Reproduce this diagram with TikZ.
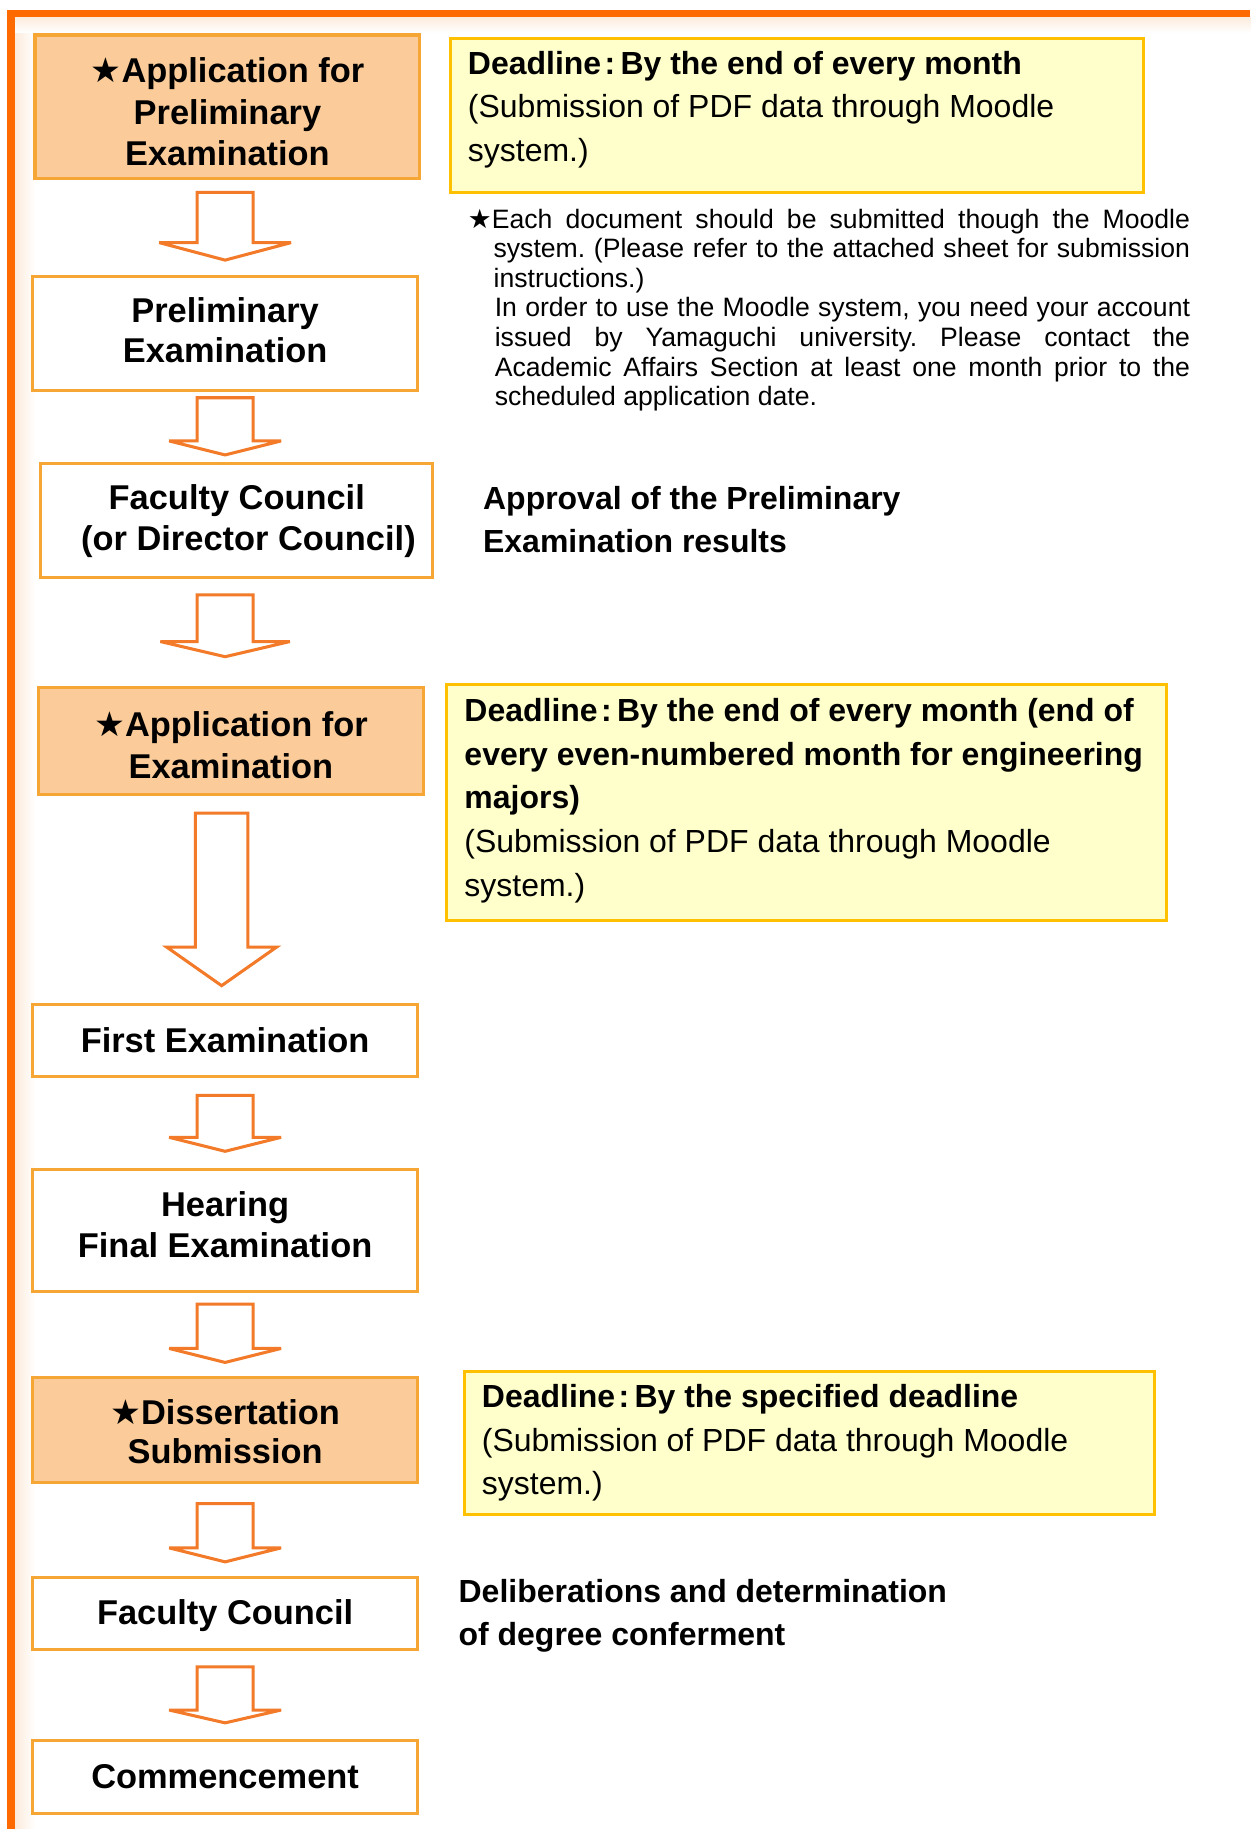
\documentclass[tikz,border=0pt]{standalone}
\usepackage{fontspec}
\setmainfont{Liberation Sans}
\newfontfamily\dvs{DejaVu Sans}
\usetikzlibrary{calc}
\definecolor{frameor}{RGB}{255,106,0}
\definecolor{boxline}{RGB}{246,166,52}
\definecolor{peach}{RGB}{251,204,153}
\definecolor{arrowor}{RGB}{242,122,40}
\definecolor{noteyel}{RGB}{255,255,204}
\definecolor{notegold}{RGB}{255,192,0}
\definecolor{tint}{RGB}{252,234,218}
\newcommand\ctr[1]{\hbox to 0pt{\hss#1\hss}}
\newcommand\stk[2]{\vtop{\baselineskip=#1\lineskiplimit=-1000pt #2}}
\newcommand\bstar{{\dvs ★}}
% from, to, column, top gap, wing dist, tip dist, shaft half width, wing half width
\newcommand\flowarrow[8]{%
  \draw[blockarrow]
    ($(#3 |- #1.south)+(-#7,#4)$) -- ($(#3 |- #1.south)+(#7,#4)$)
    -- ($(#3 |- #2.north)+(#7,-#5)$) -- ($(#3 |- #2.north)+(#8,-#5)$)
    -- ($(#3 |- #2.north)+(0,-#6)$)
    -- ($(#3 |- #2.north)+(-#8,-#5)$) -- ($(#3 |- #2.north)+(-#7,-#5)$) -- cycle;}
\begin{document}
\begin{tikzpicture}[x=1pt,y=-1pt,
  flowbox/.style={draw=boxline,line width=2.6pt,fill=white,inner sep=0pt,outer sep=0pt},
  keybox/.style={flowbox,fill=peach},
  notebox/.style={draw=notegold,line width=2.6pt,fill=noteyel,inner sep=0pt,outer sep=0pt},
  btxt/.style={font=\fontsize{29.5}{35}\selectfont\bfseries,inner sep=0pt,anchor=base},
  rtxt/.style={font=\fontsize{27.4}{37.5}\selectfont,inner sep=0pt,anchor=base west},
  blockarrow/.style={draw=arrowor,line width=2.6pt,fill=white,line join=miter,miter limit=4}]
\useasboundingbox (0,0) rectangle (1072,1568);
\fill[white] (0,0) rectangle (1072,1568);
\shade[left color=tint,right color=white] (12,14) rectangle (30,1568);
\shade[top color=tint,bottom color=white] (12,14) rectangle (1072,28);
\draw[frameor,line width=6.5pt,line join=miter] (9.5,1568) -- (9.5,11.5) -- (1072,11.5);

\coordinate (c1) at (193,0);
\coordinate (c4) at (190,0);

% flow boxes
\node[keybox, minimum width=330pt, minimum height=123pt] (b1) at (195,91.5) {};
\node[flowbox, minimum width=330pt, minimum height=98pt] (b2) at (193,286) {};
\node[flowbox, minimum width=336pt, minimum height=98pt] (b3) at (203,446) {};
\node[keybox, minimum width=330pt, minimum height=92pt] (b4) at (198,635) {};
\node[flowbox, minimum width=330pt, minimum height=62pt] (b5) at (193,892) {};
\node[flowbox, minimum width=330pt, minimum height=104pt] (b6) at (193,1055) {};
\node[keybox, minimum width=330pt, minimum height=90pt] (b7) at (193,1226) {};
\node[flowbox, minimum width=330pt, minimum height=62pt] (b8) at (193,1383) {};
\node[flowbox, minimum width=330pt, minimum height=63pt] (b9) at (193,1523.5) {};

% box texts
\node[btxt] (t1) at (195,71) {\stk{35.5pt}{\ctr{\bstar Application for}\ctr{Preliminary}\ctr{Examination}}};
\node[btxt] (t2) at (193,276.5) {\stk{34pt}{\ctr{Preliminary}\ctr{Examination}}};
\node[btxt] (t3) at (203,437) {\stk{35pt}{\ctr{Faculty Council}\ctr{\kern20pt(or Director Council)}}};
\node[btxt] (t4) at (198,631) {\stk{36pt}{\ctr{\bstar Application for}\ctr{Examination}}};
\node[btxt] (t5) at (193,902) {First Examination};
\node[btxt] (t6) at (193,1043) {\stk{35pt}{\ctr{Hearing}\ctr{Final Examination}}};
\node[btxt] (t7) at (193,1221) {\stk{34pt}{\ctr{\bstar Dissertation}\ctr{Submission}}};
\node[btxt] (t8) at (193,1393) {Faculty Council};
\node[btxt] (t9) at (193,1533) {Commencement};

% arrows
\flowarrow{b1}{b2}{c1}{12}{29}{14}{24}{56.5}
\flowarrow{b2}{b3}{c1}{6}{19}{7}{24}{48}
\flowarrow{b3}{b4}{c1}{15}{39}{26}{24}{55.5}
\flowarrow{b4}{b5}{c4}{16}{49}{16}{22.5}{47}
\flowarrow{b5}{b6}{c1}{16}{28}{16}{24}{48}
\flowarrow{b6}{b7}{c1}{11}{25}{13}{24}{48}
\flowarrow{b7}{b8}{c1}{18}{25}{13}{24}{48}
\flowarrow{b8}{b9}{c1}{15}{26}{15}{24}{48}

% deadline boxes
\node[notebox, minimum width=594pt, minimum height=132pt] (y1) at (683,99) {};
\node[notebox, minimum width=617pt, minimum height=202pt] (y2) at (691.5,688) {};
\node[notebox, minimum width=592pt, minimum height=122pt] (y3) at (694,1237) {};

\node[rtxt] (d1) at (401,63.5) {\stk{37.5pt}{\hbox{\bfseries Deadline\kern3pt:\kern4.5pt By the end of every month}\hbox{(Submission of PDF data through Moodle}\hbox{system.)}}};
\node[rtxt] (d2) at (398,618.5) {\stk{37.5pt}{\hbox{\bfseries Deadline\kern3pt:\kern4.5pt By the end of every month (end of}\hbox{\bfseries every even-numbered month for engineering}\hbox{\bfseries majors)}\hbox{(Submission of PDF data through Moodle}\hbox{system.)}}};
\node[rtxt] (d3) at (413,1206.5) {\stk{37.5pt}{\hbox{\bfseries Deadline\kern3pt:\kern4.5pt By the specified deadline}\hbox{(Submission of PDF data through Moodle}\hbox{system.)}}};

% remarks
\node[rtxt,font=\fontsize{27.4}{37.5}\selectfont\bfseries] (r1) at (414,436.5) {\stk{37.5pt}{\hbox{Approval of the Preliminary}\hbox{Examination results}}};
\node[rtxt,font=\fontsize{27.4}{37.5}\selectfont\bfseries] (r2) at (393,1373.5) {\stk{37.5pt}{\hbox{Deliberations and determination}\hbox{of degree conferment}}};

% note
\node[inner sep=0pt,anchor=base west] (note) at (401,195.5) {\begin{minipage}[t]{619pt}\fontsize{22.8}{25.4}\selectfont\frenchspacing
\noindent\hangindent=22pt\hangafter=1 {\dvs ★}Each document should be submitted though the Moodle\linebreak system. (Please refer to the attached sheet for submission\linebreak instructions.)\par
\leftskip=23pt\noindent In order to use the Moodle system, you need your account\linebreak issued by Yamaguchi university. Please contact the\linebreak Academic Affairs Section at least one month prior to the\linebreak scheduled application date.\par
\end{minipage}};
\end{tikzpicture}
\end{document}
